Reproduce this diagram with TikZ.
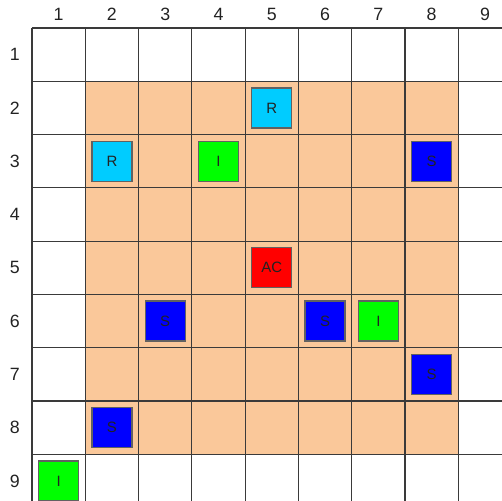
\documentclass[tikz,border=0pt]{standalone}
\usepackage{fontspec}
\setmainfont{Liberation Sans}
\definecolor{fg}{HTML}{222222}
\definecolor{gridline}{HTML}{3A3A3A}
\definecolor{zone}{HTML}{FAC89A}
\definecolor{cyanR}{HTML}{00CCFF}
\definecolor{greenI}{HTML}{00FF00}
\definecolor{blueS}{HTML}{0000FF}
\definecolor{redAC}{HTML}{FF0000}
\tikzset{
  piece/.style={draw=gridline!80,line width=0.7pt,minimum size=0.75cm,inner sep=0pt,
    font=\fontsize{8}{9}\selectfont,text=fg},
  axislbl/.style={font=\fontsize{9.5}{11}\selectfont,text=fg,inner sep=1pt}
}

\begin{document}
\begin{tikzpicture}
  \useasboundingbox (-0.6,0.525) rectangle (8.82,-8.87);
  % orange zone
  \fill[zone] (1,-1) rectangle (8,-8);
  % grid
  \foreach \x in {0,...,8}
    \draw[gridline,line width=0.6pt] (\x,0) -- (\x,-8.87);
  \foreach \y in {0,...,8}
    \draw[gridline,line width=0.6pt] (0,-\y) -- (8.82,-\y);
  % axis numbers
  \foreach \i in {1,...,9} {
    \node[axislbl] (col\i) at (\i-0.5,0.25) {\i};
    \node[axislbl] (row\i) at (-0.32,-\i+0.5) {\i};
  }
  % pieces
  \node[piece,fill=cyanR]  (R52)  at (4.5,-1.5) {R};
  \node[piece,fill=cyanR]  (R23)  at (1.5,-2.5) {R};
  \node[piece,fill=greenI] (I43)  at (3.5,-2.5) {I};
  \node[piece,fill=blueS]  (S83)  at (7.5,-2.5) {S};
  \node[piece,fill=redAC]  (AC55) at (4.5,-4.5) {AC};
  \node[piece,fill=blueS]  (S36)  at (2.5,-5.5) {S};
  \node[piece,fill=blueS]  (S66)  at (5.5,-5.5) {S};
  \node[piece,fill=greenI] (I76)  at (6.5,-5.5) {I};
  \node[piece,fill=blueS]  (S87)  at (7.5,-6.5) {S};
  \node[piece,fill=blueS]  (S28)  at (1.5,-7.5) {S};
  \node[piece,fill=greenI] (I19)  at (0.5,-8.5) {I};
\end{tikzpicture}
\end{document}
